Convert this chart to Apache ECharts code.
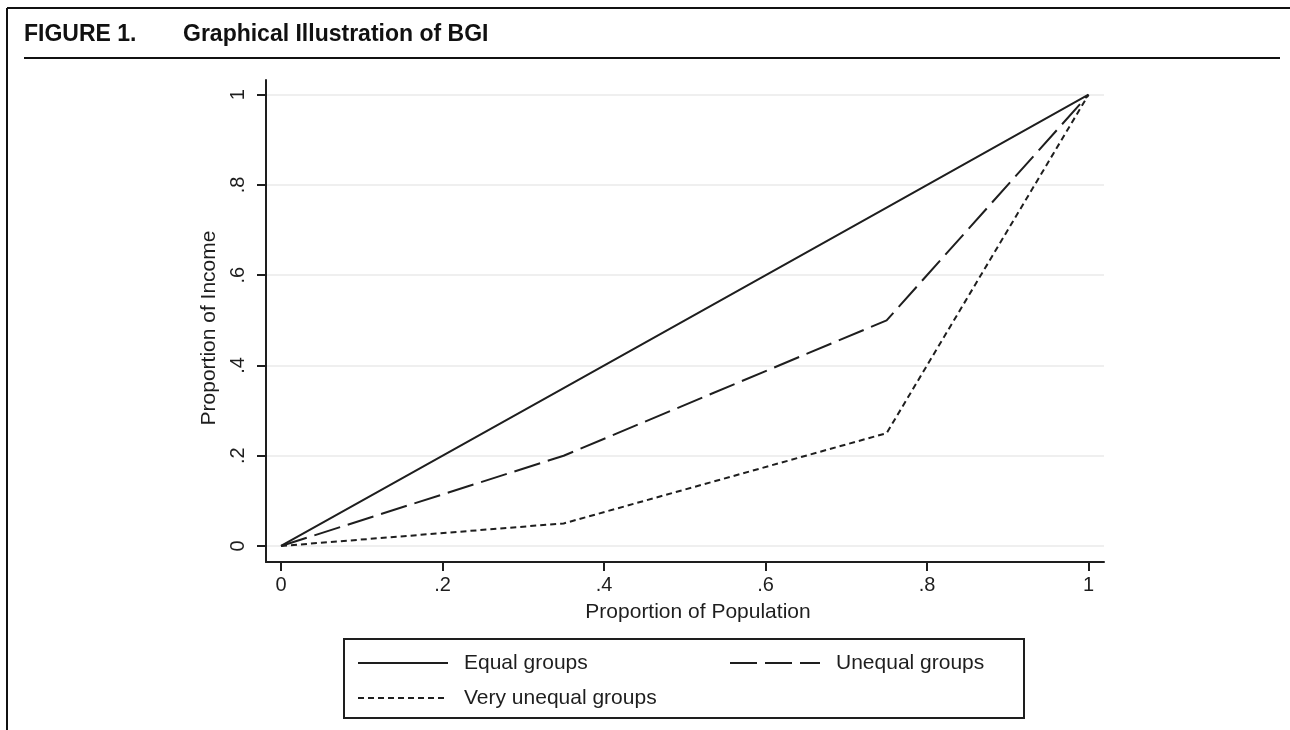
<!DOCTYPE html>
<html>
<head>
<meta charset="utf-8">
<script src="https://cdn.jsdelivr.net/npm/echarts@6/dist/echarts.min.js"></script>
<style>
html,body{margin:0;padding:0;background:#fff;}
#chart{width:1290px;height:730px;}
</style>
</head>
<body>
<div id="chart"></div>
<script>
// ---- data ----
var seriesNames = ['Equal groups', 'Unequal groups', 'Very unequal groups'];
var populationShare = [0, 0.35, 0.75, 1];
var equalIncome = [0, 0.35, 0.75, 1];
var unequalIncome = [0, 0.2, 0.5, 1];
var veryUnequalIncome = [0, 0.05, 0.25, 1];
var tickValues = [0, 0.2, 0.4, 0.6, 0.8, 1];
var tickLabels = ['0', '.2', '.4', '.6', '.8', '1'];
var xAxisTitle = 'Proportion of Population';
var yAxisTitle = 'Proportion of Income';
var figureLabel = 'FIGURE 1.';
var figureTitle = 'Graphical Illustration of BGI';

function pairs(xs, ys) { return xs.map(function (x, i) { return [x, ys[i]]; }); }
function fmt(v) {
  for (var i = 0; i < tickValues.length; i++) {
    if (Math.abs(tickValues[i] - v) < 1e-9) return tickLabels[i];
  }
  return '';
}

var FONT = '"Liberation Sans", Arial, Helvetica, sans-serif';
var INK = '#1e1e1e';

var chart = echarts.init(document.getElementById('chart'), null, { renderer: 'canvas' });

var axisCommon = {
  type: 'value',
  axisLine: { show: true, onZero: false, lineStyle: { color: INK, width: 2 } },
  axisTick: { show: true, length: 9, inside: false, lineStyle: { color: INK, width: 2 }, customValues: tickValues },
  axisLabel: { color: INK, fontFamily: FONT, fontSize: 20, formatter: fmt, customValues: tickValues },
  splitLine: { show: false },
  nameLocation: 'middle'
};

var legendText = { color: INK, fontFamily: FONT, fontSize: 21, lineHeight: 22, padding: [0, 0, 0, 11] };
var legendItemStyle = { color: 'rgba(0,0,0,0)', borderColor: 'rgba(0,0,0,0)', borderWidth: 0 };

var option = {
  animation: false,
  backgroundColor: '#fff',
  grid: { left: 266, right: 186, top: 80, bottom: 168, containLabel: false },
  xAxis: Object.assign({}, axisCommon, {
    min: -0.0186, max: 1.0192,
    name: xAxisTitle, nameGap: 40,
    nameTextStyle: { color: INK, fontFamily: FONT, fontSize: 21, padding: [0, 0, 0, 26] },
    axisLabel: Object.assign({}, axisCommon.axisLabel, { margin: 13 })
  }),
  yAxis: Object.assign({}, axisCommon, {
    min: -0.0355, max: 1.0326,
    name: yAxisTitle, nameGap: 46,
    nameTextStyle: { color: INK, fontFamily: FONT, fontSize: 21, padding: [0, 14, 0, 0] },
    axisLabel: Object.assign({}, axisCommon.axisLabel, { rotate: 90, margin: 18 }),
    splitLine: { show: true, lineStyle: { color: '#efefef', width: 2 } }
  }),
  legend: [
    {
      data: [seriesNames[0], seriesNames[2]],
      orient: 'vertical', left: 357, top: 652, padding: 0,
      itemWidth: 90, itemHeight: 12, itemGap: 13,
      selectedMode: false,
      itemStyle: legendItemStyle,
      textStyle: legendText
    },
    {
      data: [seriesNames[1]],
      orient: 'vertical', left: 729, top: 652, padding: 0,
      itemWidth: 90, itemHeight: 12, itemGap: 13,
      selectedMode: false,
      itemStyle: legendItemStyle,
      textStyle: legendText
    }
  ],
  graphic: [
    { type: 'line', shape: { x1: 7, y1: 8, x2: 1290, y2: 8 }, style: { stroke: '#111', lineWidth: 2 } },
    { type: 'line', shape: { x1: 7, y1: 8, x2: 7, y2: 730 }, style: { stroke: '#111', lineWidth: 2 } },
    { type: 'line', shape: { x1: 24, y1: 58, x2: 1280, y2: 58 }, style: { stroke: '#111', lineWidth: 2 } },
    { type: 'text', left: 24, top: 23, style: { text: figureLabel, font: 'bold 23px ' + FONT, fill: '#111' } },
    { type: 'text', left: 183, top: 23, style: { text: figureTitle, font: 'bold 23px ' + FONT, fill: '#111' } },
    { type: 'rect', shape: { x: 344, y: 639, width: 680, height: 79 }, style: { fill: 'none', stroke: INK, lineWidth: 2 }, z: 10 }
  ],
  series: [
    {
      name: seriesNames[0], type: 'line', data: pairs(populationShare, equalIncome),
      symbol: 'none', lineStyle: { color: INK, width: 2, type: 'solid' }, itemStyle: { color: INK }
    },
    {
      name: seriesNames[1], type: 'line', data: pairs(populationShare, unequalIncome),
      symbol: 'none', lineStyle: { color: INK, width: 2, type: [27, 8] }, itemStyle: { color: INK }
    },
    {
      name: seriesNames[2], type: 'line', data: pairs(populationShare, veryUnequalIncome),
      symbol: 'none', lineStyle: { color: INK, width: 2, type: [6, 4] }, itemStyle: { color: INK }
    }
  ]
};
chart.setOption(option);
</script>
</body>
</html>
